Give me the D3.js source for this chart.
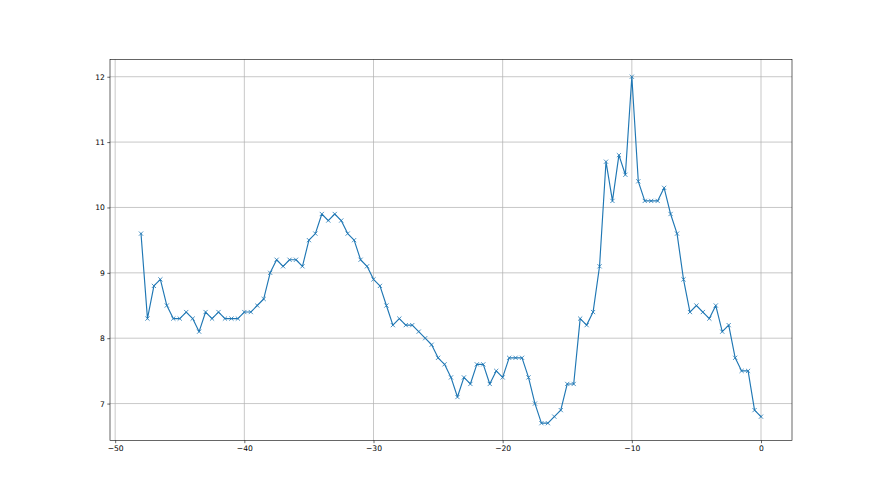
<!DOCTYPE html>
<html>
<head>
<meta charset="utf-8">
<script src="https://cdn.jsdelivr.net/npm/d3@7"></script>
<style>
  body { margin: 0; background: #fff; }
  svg { display: block; }
  .tick text { font-family: "DejaVu Sans", sans-serif; font-size: 7.6px; fill: #000; }
</style>
</head>
<body>
<div id="chart"></div>
<script>
(function (d3) {
    "use strict";

    /***** Data *****/
    var xStart = -48, xStep = 0.5;
    var values = [
        9.6, 8.3, 8.8, 8.9, 8.5, 8.3, 8.3, 8.4, 8.3, 8.1,
        8.4, 8.3, 8.4, 8.3, 8.3, 8.3, 8.4, 8.4, 8.5, 8.6,
        9.0, 9.2, 9.1, 9.2, 9.2, 9.1, 9.5, 9.6, 9.9, 9.8,
        9.9, 9.8, 9.6, 9.5, 9.2, 9.1, 8.9, 8.8, 8.5, 8.2,
        8.3, 8.2, 8.2, 8.1, 8.0, 7.9, 7.7, 7.6, 7.4, 7.1,
        7.4, 7.3, 7.6, 7.6, 7.3, 7.5, 7.4, 7.7, 7.7, 7.7,
        7.4, 7.0, 6.7, 6.7, 6.8, 6.9, 7.3, 7.3, 8.3, 8.2,
        8.4, 9.1, 10.7, 10.1, 10.8, 10.5, 12.0, 10.4, 10.1, 10.1,
        10.1, 10.3, 9.9, 9.6, 8.9, 8.4, 8.5, 8.4, 8.3, 8.5,
        8.1, 8.2, 7.7, 7.5, 7.5, 6.9, 6.8
    ];
    var xTicks = [-50, -40, -30, -20, -10, 0];
    var yTicks = [7, 8, 9, 10, 11, 12];

    var data = values.map(function (v, i) { return {x: xStart + i * xStep, y: v}; });

    /***** Layout *****/
    var width = 880, height = 495;
    var margin = {top: 59.4, right: 88, bottom: 54.5, left: 110};
    var innerW = width - margin.left - margin.right;
    var innerH = height - margin.top - margin.bottom;

    // matplotlib-style 5% margins
    var xMin = d3.min(data, d => d.x), xMax = d3.max(data, d => d.x);
    var yMin = d3.min(data, d => d.y), yMax = d3.max(data, d => d.y);
    var xPad = (xMax - xMin) * 0.05, yPad = (yMax - yMin) * 0.05;

    var x = d3.scaleLinear().domain([xMin - xPad, xMax + xPad]).range([0, innerW]);
    var y = d3.scaleLinear().domain([yMin - yPad, yMax + yPad]).range([innerH, 0]);

    var svg = d3.select("#chart").append("svg")
        .attr("width", width)
        .attr("height", height);

    var g = svg.append("g")
        .attr("transform", "translate(" + margin.left + "," + margin.top + ")");

    // grid
    g.append("g").selectAll("line").data(xTicks).enter().append("line")
        .attr("x1", d => x(d)).attr("x2", d => x(d))
        .attr("y1", 0).attr("y2", innerH)
        .attr("stroke", "#b0b0b0").attr("stroke-width", 0.7);
    g.append("g").selectAll("line").data(yTicks).enter().append("line")
        .attr("x1", 0).attr("x2", innerW)
        .attr("y1", d => y(d)).attr("y2", d => y(d))
        .attr("stroke", "#b0b0b0").attr("stroke-width", 0.7);

    // axes
    var xAxis = d3.axisBottom(x).tickValues(xTicks).tickSize(2.7).tickPadding(2.5)
        .tickFormat(d => d < 0 ? "\u2212" + Math.abs(d) : d);
    var yAxis = d3.axisLeft(y).tickValues(yTicks).tickSize(2.7).tickPadding(2.5)
        .tickFormat(d3.format("d"));

    var gx = g.append("g").attr("transform", "translate(0," + innerH + ")").call(xAxis);
    var gy = g.append("g").call(yAxis);
    [gx, gy].forEach(function (a) {
        a.select(".domain").remove();
        a.selectAll(".tick line").attr("stroke", "#000").attr("stroke-width", 0.6);
    });

    // frame
    g.append("rect")
        .attr("x", 0).attr("y", 0)
        .attr("width", innerW).attr("height", innerH)
        .attr("fill", "none").attr("stroke", "#000").attr("stroke-width", 0.6);

    // line
    var line = d3.line().x(d => x(d.x)).y(d => y(d.y));
    g.append("path").datum(data)
        .attr("d", line)
        .attr("fill", "none")
        .attr("stroke", "#1f77b4")
        .attr("stroke-width", 1.15)
        .attr("stroke-linejoin", "round")
        .attr("stroke-linecap", "square");

    // x markers
    var m = 2.1;
    g.append("g").selectAll("path").data(data).enter().append("path")
        .attr("d", d => {
            var cx = x(d.x), cy = y(d.y);
            return "M" + (cx - m) + "," + (cy - m) + "L" + (cx + m) + "," + (cy + m) +
                   "M" + (cx - m) + "," + (cy + m) + "L" + (cx + m) + "," + (cy - m);
        })
        .attr("stroke", "#1f77b4")
        .attr("stroke-width", 0.8)
        .attr("fill", "none");

})(d3);
</script>
</body>
</html>
